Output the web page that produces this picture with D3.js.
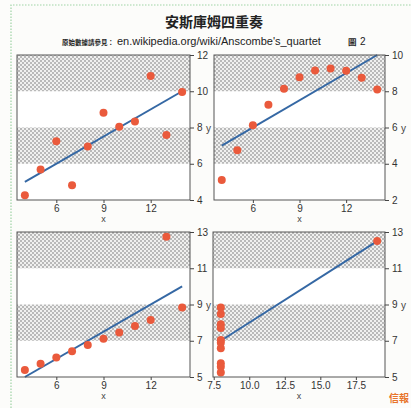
<!DOCTYPE html>
<html>
<head>
<meta charset="utf-8">
<script src="https://cdn.jsdelivr.net/npm/d3@7"></script>
<style>
  body { margin: 0; background: #fcfcfa; }
  svg { display: block; }
</style>
</head>
<body>
<svg id="chart" width="411" height="408"></svg>
<script>
// Anscombe's quartet data
const x123 = [10, 8, 13, 9, 11, 14, 6, 4, 12, 7, 5];
const y1 = [8.04, 6.95, 7.58, 8.81, 8.33, 9.96, 7.24, 4.26, 10.84, 4.82, 5.68];
const y2 = [9.14, 8.14, 8.74, 8.77, 9.26, 8.10, 6.13, 3.10, 9.13, 7.26, 4.74];
const y3 = [7.46, 6.77, 12.74, 7.11, 7.81, 8.84, 6.08, 5.39, 8.15, 6.42, 5.73];
const x4 = [8, 8, 8, 8, 8, 8, 8, 19, 8, 8, 8];
const y4 = [6.58, 5.76, 7.71, 8.84, 8.47, 7.04, 5.25, 12.50, 5.56, 7.91, 6.89];

const fitIntercept = 3.0, fitSlope = 0.5;   // same fitted line in all four panels

const xTicks123 = [6, 9, 12];
const xTicks4 = [7.5, 10.0, 12.5, 15.0, 17.5];
const yDomains = [[4, 12], [2, 10], [5, 13], [5, 13]];

const svg = d3.select('#chart');

// dotted fill for the shaded bands
const pat = svg.append('defs').append('pattern')
  .attr('id', 'dots')
  .attr('width', 4).attr('height', 4)
  .attr('patternUnits', 'userSpaceOnUse');
pat.append('rect').attr('width', 4).attr('height', 4).attr('fill', '#f0f0ef');
pat.append('rect').attr('x', 0).attr('y', 0).attr('width', 2).attr('height', 2).attr('fill', '#b9b9b9');
pat.append('rect').attr('x', 2).attr('y', 2).attr('width', 2).attr('height', 2).attr('fill', '#b9b9b9');

// green dotted page border
svg.append('path')
  .attr('d', 'M11,408 L11,5 L411,5')
  .attr('fill', 'none')
  .attr('stroke', '#9fd3a6')
  .attr('stroke-width', 1.2)
  .attr('stroke-dasharray', '1.5,1.5');

// titles
svg.append('text')
  .attr('x', 214).attr('y', 27)
  .attr('text-anchor', 'middle')
  .style('font-family', '"Noto Sans CJK TC", sans-serif')
  .style('font-weight', 'bold')
  .style('font-size', '14px')
  .attr('fill', '#222')
  .text('安斯庫姆四重奏');

svg.append('text')
  .attr('x', 62).attr('y', 45)
  .attr('fill', '#222')
  .style('font-family', '"Noto Sans CJK TC", sans-serif')
  .style('font-weight', 'bold')
  .style('font-size', '6.5px')
  .text('原始數據請參見：');
svg.append('text')
  .attr('x', 117).attr('y', 45)
  .attr('fill', '#222')
  .style('font-family', '"Liberation Sans", Arial, sans-serif')
  .style('font-size', '11px')
  .text("en.wikipedia.org/wiki/Anscombe's_quartet");
svg.append('text')
  .attr('x', 348).attr('y', 45)
  .attr('fill', '#222')
  .style('font-family', '"Noto Sans CJK TC", sans-serif')
  .style('font-weight', 'bold')
  .style('font-size', '8.5px')
  .text('圖');
svg.append('text')
  .attr('x', 360).attr('y', 45)
  .attr('fill', '#222')
  .style('font-family', '"Liberation Sans", Arial, sans-serif')
  .style('font-size', '10px')
  .text('2');

const panels = [
  { xs: x123, ys: y1, xDom: [3.5, 14.5], xTicks: xTicks123, fmt: d3.format('d'), box: [17, 190, 55, 200] },
  { xs: x123, ys: y2, xDom: [3.5, 14.5], xTicks: xTicks123, fmt: d3.format('d'), box: [214, 385, 55, 200] },
  { xs: x123, ys: y3, xDom: [3.5, 14.5], xTicks: xTicks123, fmt: d3.format('d'), box: [17, 190, 232, 377] },
  { xs: x4,   ys: y4, xDom: [7.45, 19.55], xTicks: xTicks4, fmt: d3.format('.1f'), box: [213, 385, 232, 377] }
];

panels.forEach(function(p, i) {
  const [l, r, t, b] = p.box;
  const yDom = yDomains[i];
  const x = d3.scaleLinear().domain(p.xDom).range([l, r]);
  const y = d3.scaleLinear().domain(yDom).range([b, t]);
  const g = svg.append('g');

  // plot background
  g.append('rect').attr('x', l).attr('y', t).attr('width', r - l).attr('height', b - t).attr('fill', '#fff');

  // shaded bands: 2nd and 4th quarter of the y range
  const step = (yDom[1] - yDom[0]) / 4;
  [[yDom[0] + step, yDom[0] + 2 * step], [yDom[0] + 3 * step, yDom[1]]].forEach(function(bd) {
    g.append('rect')
      .attr('x', l).attr('width', r - l)
      .attr('y', y(bd[1])).attr('height', y(bd[0]) - y(bd[1]))
      .attr('fill', 'url(#dots)');
  });

  // fitted line
  const xe = d3.extent(p.xs);
  g.append('line')
    .attr('x1', x(xe[0])).attr('y1', y(fitIntercept + fitSlope * xe[0]))
    .attr('x2', x(xe[1])).attr('y2', y(fitIntercept + fitSlope * xe[1]))
    .attr('stroke', '#3568a4')
    .attr('stroke-width', 2);

  // points
  g.selectAll('circle')
    .data(p.xs.map(function(d, k) { return [d, p.ys[k]]; }))
    .enter().append('circle')
    .attr('cx', function(d) { return x(d[0]); })
    .attr('cy', function(d) { return y(d[1]); })
    .attr('r', 4)
    .attr('fill', '#ea5a3c');

  // frame
  g.append('rect').attr('x', l).attr('y', t).attr('width', r - l).attr('height', b - t)
    .attr('fill', 'none').attr('stroke', '#555').attr('stroke-width', 1);

  // axes
  const xAxis = g.append('g').attr('transform', 'translate(0,' + b + ')')
    .call(d3.axisBottom(x).tickValues(p.xTicks).tickFormat(p.fmt).tickSize(3).tickPadding(2));
  const yAxis = g.append('g').attr('transform', 'translate(' + r + ',0)')
    .call(d3.axisRight(y).tickValues(d3.range(yDom[0], yDom[1] + 0.1, step)).tickSize(4).tickPadding(3));
  [xAxis, yAxis].forEach(function(a) {
    a.select('.domain').remove();
    a.selectAll('line').attr('stroke', '#444');
    a.selectAll('text')
      .attr('fill', '#333')
      .style('font-family', '"Liberation Sans", Arial, sans-serif')
      .style('font-size', '10px');
  });

  // axis titles
  g.append('text')
    .attr('x', (l + r) / 2).attr('y', b + 22)
    .attr('text-anchor', 'middle')
    .attr('fill', '#444')
    .style('font-family', '"Liberation Sans", Arial, sans-serif')
    .style('font-size', '9px')
    .text('x');
  g.append('text')
    .attr('x', r + 16).attr('y', (t + b) / 2 + 4)
    .attr('fill', '#444')
    .style('font-family', '"Liberation Sans", Arial, sans-serif')
    .style('font-size', '10px')
    .text('y');
});

// source mark, bottom right
svg.append('text')
  .attr('x', 389).attr('y', 402)
  .attr('fill', '#e8742a')
  .style('font-family', '"Noto Sans CJK TC", sans-serif')
  .style('font-weight', 'bold')
  .style('font-size', '10px')
  .text('信報');
</script>
</body>
</html>
